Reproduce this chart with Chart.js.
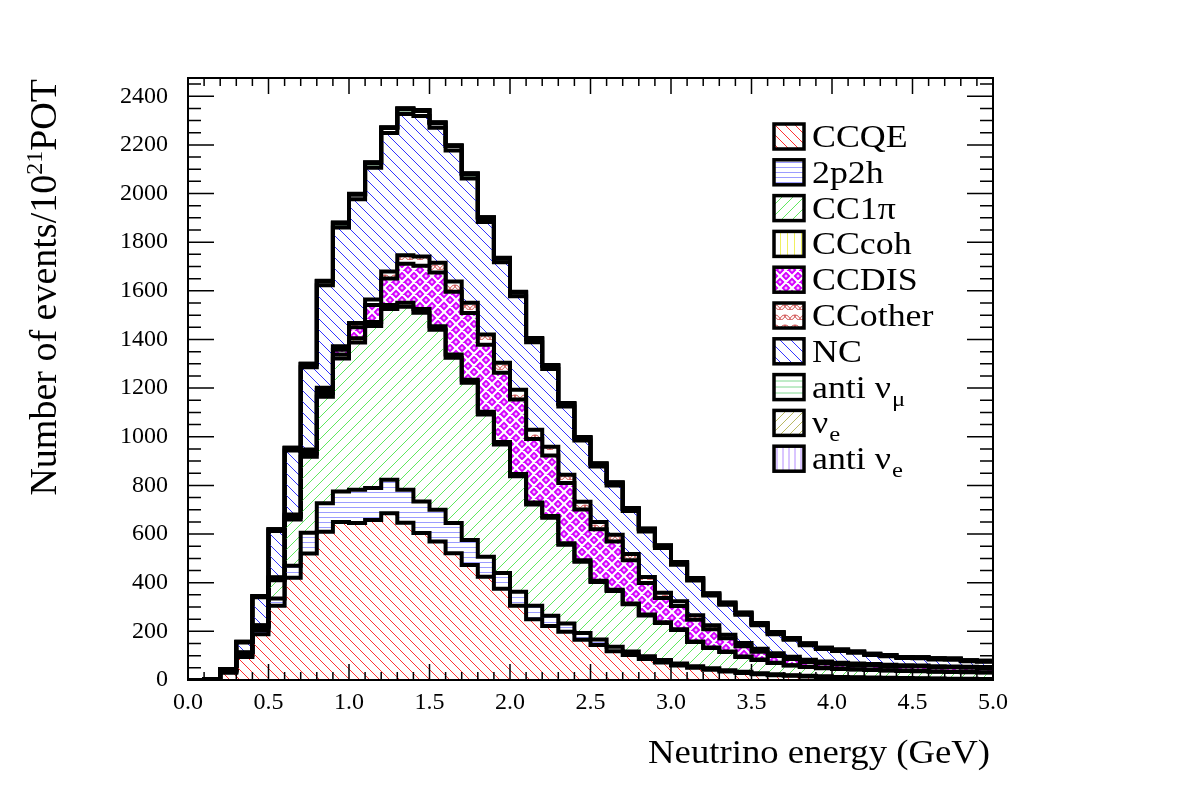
<!DOCTYPE html>
<html>
<head>
<meta charset="utf-8">
<title>Neutrino energy stack</title>
<script src="https://cdn.jsdelivr.net/npm/chart.js@4.4.1/dist/chart.umd.min.js"></script>
<style>
  html, body { margin: 0; padding: 0; background: #fff; }
  canvas { display: block; }
</style>
</head>
<body>
<canvas id="stackChart" width="1182" height="800"></canvas>
<script>
// low edge of every 0.1 GeV bin, plus the last upper edge
var binEdges = [0.0, 0.1, 0.2, 0.3, 0.4, 0.5, 0.6, 0.7, 0.8, 0.9,
                1.0, 1.1, 1.2, 1.3, 1.4, 1.5, 1.6, 1.7, 1.8, 1.9,
                2.0, 2.1, 2.2, 2.3, 2.4, 2.5, 2.6, 2.7, 2.8, 2.9,
                3.0, 3.1, 3.2, 3.3, 3.4, 3.5, 3.6, 3.7, 3.8, 3.9,
                4.0, 4.1, 4.2, 4.3, 4.4, 4.5, 4.6, 4.7, 4.8, 4.9];
var lastEdge = 5.0;

// events / 1e21 POT per bin, one array per channel (stack order, bottom first)
var ccqe     = [0, 3, 30, 95, 188, 305, 420, 520, 609, 650, 645, 658, 686, 646, 604, 569, 521, 473, 425, 375,
                305, 250, 222, 198, 165, 144, 118, 103, 86, 72, 60, 50, 42, 35, 29, 24, 20, 17, 14, 12,
                10, 9, 8, 7, 6, 5, 5, 4, 4, 3];
var twoP2h   = [0, 0, 3, 8, 17, 30, 50, 85, 118, 125, 137, 131, 137, 136, 130, 131, 124, 103, 82, 65,
                58, 55, 42, 34, 28, 22, 19, 14, 12, 10, 8, 7, 6, 5, 5, 4, 4, 3, 3, 3,
                2, 2, 2, 2, 2, 2, 1, 1, 1, 1];
var cc1pi    = [0, 0, 5, 7, 13, 75, 190, 313, 438, 547, 606, 666, 702, 753, 776, 740, 680, 646, 585, 528,
                475, 417, 403, 324, 293, 237, 229, 194, 167, 152, 138, 99, 84, 75, 61, 54, 46, 40, 36, 33,
                33, 32, 31, 30, 29, 29, 28, 28, 27, 27];
var cccoh    = [0, 0, 1, 2, 4, 7, 10, 13, 15, 16, 17, 17, 17, 16, 15, 14, 13, 12, 11, 10,
                9, 8, 7, 6, 6, 5, 5, 4, 4, 3, 3, 2, 2, 2, 2, 2, 1, 1, 1, 1,
                1, 1, 1, 1, 1, 1, 1, 1, 1, 1];
var ccdis    = [0, 0, 1, 1, 2, 3, 6, 10, 12, 20, 45, 70, 109, 160, 178, 221, 258, 275, 275, 285,
                306, 261, 249, 248, 209, 212, 198, 177, 130, 100, 95, 90, 75, 55, 42, 32, 28, 25, 20, 19,
                18, 17, 18, 17, 18, 18, 17, 18, 17, 17];
var ccother  = [0, 0, 0, 0, 1, 2, 4, 7, 10, 14, 18, 22, 28, 35, 38, 40, 42, 42, 42, 41,
                40, 38, 36, 34, 32, 30, 28, 26, 24, 22, 20, 18, 16, 14, 13, 12, 11, 10, 9, 8,
                7, 7, 6, 6, 5, 5, 5, 4, 4, 4];
var nc       = [0, 1, 4, 41, 115, 191, 264, 338, 421, 488, 509, 542, 570, 581, 578, 555, 539, 511, 463, 413,
                385, 360, 320, 280, 252, 228, 203, 177, 188, 184, 150, 143, 122, 123, 116, 97, 78, 69, 60, 51,
                48, 44, 37, 35, 29, 29, 27, 27, 23, 22];
var antiNumu = [0, 0, 1, 2, 4, 6, 9, 12, 15, 17, 18, 19, 20, 20, 20, 19, 18, 17, 16, 15,
                14, 13, 12, 11, 10, 9, 9, 8, 8, 7, 7, 6, 6, 6, 5, 5, 5, 4, 4, 4,
                4, 3, 3, 3, 3, 3, 3, 3, 2, 2];
var nue      = [0, 0, 0, 1, 1, 1, 2, 2, 2, 3, 3, 3, 3, 3, 3, 3, 3, 3, 3, 3,
                3, 3, 3, 3, 3, 3, 3, 3, 3, 3, 3, 3, 3, 3, 3, 3, 3, 3, 3, 2,
                2, 2, 2, 2, 2, 2, 2, 2, 2, 2];
var antiNue  = [0, 0, 0, 0, 0, 0, 0, 0, 1, 1, 1, 1, 1, 1, 1, 1, 1, 1, 1, 1,
                1, 1, 1, 1, 1, 1, 1, 1, 1, 1, 1, 1, 1, 1, 1, 1, 1, 1, 1, 0,
                0, 0, 0, 0, 0, 0, 0, 0, 0, 0];

var serif = '"Liberation Serif", "Times New Roman", serif';

// ---- ROOT-like fill patterns ----
function hatch(color, kind, gap, width) {
    var c = document.createElement('canvas');
    c.width = gap; c.height = gap;
    var g = c.getContext('2d');
    g.strokeStyle = color;
    g.lineWidth = width || 1;
    g.beginPath();
    if (kind === 'h') { g.moveTo(0, gap / 2); g.lineTo(gap, gap / 2); }
    if (kind === 'v') { g.moveTo(gap / 2, 0); g.lineTo(gap / 2, gap); }
    if (kind === 'back') {
        g.moveTo(-1, -1); g.lineTo(gap + 1, gap + 1);
        g.moveTo(-1, gap - 1); g.lineTo(1, gap + 1);
        g.moveTo(gap - 1, -1); g.lineTo(gap + 1, 1);
    }
    if (kind === 'fwd') {
        g.moveTo(-1, gap + 1); g.lineTo(gap + 1, -1);
        g.moveTo(-1, 1); g.lineTo(1, -1);
        g.moveTo(gap - 1, gap + 1); g.lineTo(gap + 1, gap - 1);
    }
    g.stroke();
    return g.createPattern(c, 'repeat');
}

function disPattern() {
    var s = 12;
    var c = document.createElement('canvas');
    c.width = s; c.height = s;
    var g = c.getContext('2d');
    g.fillStyle = '#d400ff';
    g.fillRect(0, 0, s, s);
    g.strokeStyle = '#fff';
    g.lineWidth = 2.2;
    g.beginPath();
    [-s, 0, s].forEach(function (k) {
        g.moveTo(k, 0); g.lineTo(k + s, s);
        g.moveTo(k, s); g.lineTo(k + s, 0);
    });
    g.stroke();
    // little white crosses in the diamonds
    g.lineWidth = 1;
    g.beginPath();
    [[s / 2, 0], [0, s / 2], [s, s / 2], [s / 2, s]].forEach(function (p) {
        g.moveTo(p[0] - 1.5, p[1]); g.lineTo(p[0] + 1.5, p[1]);
        g.moveTo(p[0], p[1] - 1.5); g.lineTo(p[0], p[1] + 1.5);
    });
    g.stroke();
    return g.createPattern(c, 'repeat');
}

function scalePattern() {
    var s = 10;
    var c = document.createElement('canvas');
    c.width = s; c.height = s;
    var g = c.getContext('2d');
    g.strokeStyle = '#d05050';
    g.lineWidth = 1;
    g.beginPath();
    g.arc(s / 2, s, s / 2, Math.PI, 2 * Math.PI);
    g.moveTo(s / 2, s / 2);
    g.arc(0, s / 2, s / 2, 0, Math.PI);
    g.moveTo(s, s / 2);
    g.arc(s, s / 2, s / 2, 0, Math.PI);
    g.stroke();
    return g.createPattern(c, 'repeat');
}

function toPoints(arr) {
    var pts = arr.map(function (v, i) { return { x: binEdges[i], y: v }; });
    pts.push({ x: lastEdge, y: arr[arr.length - 1] });
    return pts;
}

var channels = [
    { label: 'CCQE',    sub: '',  values: ccqe,     fill: hatch('#ff3030', 'back', 10) },
    { label: '2p2h',    sub: '',  values: twoP2h,   fill: hatch('#9c9cff', 'h', 5) },
    { label: 'CC1\u03c0', sub: '', values: cc1pi,   fill: hatch('#5fe85f', 'fwd', 11) },
    { label: 'CCcoh',   sub: '',  values: cccoh,    fill: hatch('#f0f060', 'v', 7) },
    { label: 'CCDIS',   sub: '',  values: ccdis,    fill: disPattern() },
    { label: 'CCother', sub: '',  values: ccother,  fill: scalePattern() },
    { label: 'NC',      sub: '',  values: nc,       fill: hatch('#3434ff', 'back', 11) },
    { label: 'anti \u03bd', sub: '\u03bc', values: antiNumu, fill: hatch('#80d890', 'h', 6) },
    { label: '\u03bd',  sub: 'e', values: nue,      fill: hatch('#b8b860', 'fwd', 9) },
    { label: 'anti \u03bd', sub: 'e', values: antiNue, fill: hatch('#b48cff', 'v', 6) }
];

var datasets = channels.map(function (ch, i) {
    return {
        label: ch.label,
        sub: ch.sub,
        data: toPoints(ch.values),
        stepped: 'before',
        fill: i === 0 ? 'origin' : '-1',
        backgroundColor: ch.fill,
        borderColor: '#000',
        borderWidth: 4,
        borderJoinStyle: 'miter',
        pointRadius: 0,
        pointHoverRadius: 0
    };
});

// ---- frame and inward ticks like ROOT ----
var rootAxes = {
    id: 'rootAxes',
    afterDatasetsDraw: function (chart) {
        var ctx = chart.ctx, a = chart.chartArea;
        var xs = chart.scales.x, ys = chart.scales.y;
        ctx.save();
        ctx.strokeStyle = '#000';
        ctx.lineWidth = 1.5;
        ctx.beginPath();
        for (var i = 0; i <= 50; i++) {
            var px = xs.getPixelForValue(i / 10);
            var len = i % 5 === 0 ? 16 : 8;
            ctx.moveTo(px, a.bottom); ctx.lineTo(px, a.bottom - len);
            ctx.moveTo(px, a.top); ctx.lineTo(px, a.top + len);
        }
        for (var v = 0; v <= ys.max; v += 50) {
            var py = ys.getPixelForValue(v);
            var l = v % 200 === 0 ? 26 : 13;
            ctx.moveTo(a.left, py); ctx.lineTo(a.left + l, py);
            ctx.moveTo(a.right, py); ctx.lineTo(a.right - l, py);
        }
        ctx.stroke();
        ctx.lineWidth = 2;
        ctx.strokeRect(a.left, a.top, a.right - a.left, a.bottom - a.top);
        ctx.restore();
    }
};

function stretchText(ctx, text, x, y, sx) {
    ctx.save();
    ctx.translate(x, y);
    ctx.scale(sx, 1);
    ctx.fillText(text, 0, 0);
    var w = ctx.measureText(text).width * sx;
    ctx.restore();
    return w;
}

// ---- legend and axis titles ----
var rootText = {
    id: 'rootText',
    afterDraw: function (chart) {
        var ctx = chart.ctx;
        ctx.save();
        ctx.fillStyle = '#000';
        ctx.textAlign = 'left';
        ctx.textBaseline = 'alphabetic';

        chart.data.datasets.forEach(function (ds, k) {
            var yc = 136 + 35.8 * k;
            ctx.fillStyle = '#fff';
            ctx.fillRect(774, yc - 12, 30, 25);
            ctx.fillStyle = ds.backgroundColor;
            ctx.fillRect(774, yc - 12, 30, 25);
            ctx.lineWidth = 3.5;
            ctx.strokeStyle = '#000';
            ctx.strokeRect(774, yc - 12, 30, 25);
            ctx.fillStyle = '#000';
            ctx.font = '32px ' + serif;
            var w = stretchText(ctx, ds.label, 812, yc + 11, 1.12);
            if (ds.sub) {
                ctx.font = '22px ' + serif;
                stretchText(ctx, ds.sub, 812 + w + 1, yc + 19, 1.12);
            }
        });

        // x title
        ctx.font = '34px ' + serif;
        ctx.textAlign = 'right';
        stretchText(ctx, 'Neutrino energy (GeV)', 990, 763, 1.08);

        // y title, rotated, with superscript
        ctx.textAlign = 'left';
        var big = '38px ' + serif, small = '24px ' + serif;
        var p1 = 'Number of events/10', p2 = '21', p3 = 'POT';
        ctx.font = big; var w1 = ctx.measureText(p1).width, w3 = ctx.measureText(p3).width;
        ctx.font = small; var w2 = ctx.measureText(p2).width;
        var total = w1 + w2 + w3;
        ctx.translate(56, 79);
        ctx.rotate(-Math.PI / 2);
        ctx.font = big; ctx.fillText(p1, -total, 0);
        ctx.font = small; ctx.fillText(p2, -total + w1, -14);
        ctx.font = big; ctx.fillText(p3, -total + w1 + w2, 0);
        ctx.restore();
    }
};

var tickFont = { family: serif, size: 24 };

new Chart(document.getElementById('stackChart'), {
    type: 'line',
    data: { datasets: datasets },
    options: {
        responsive: false,
        animation: false,
        devicePixelRatio: 1,
        events: [],
        layout: { padding: { left: 0, top: 78, right: 189, bottom: 0 } },
        plugins: { legend: { display: false }, tooltip: { enabled: false } },
        elements: { line: { tension: 0 } },
        scales: {
            x: {
                type: 'linear', min: 0, max: 5,
                grid: { display: false, drawTicks: false },
                border: { display: false },
                ticks: {
                    stepSize: 0.5, color: '#000', font: tickFont, padding: 8, maxRotation: 0,
                    callback: function (v) { return v.toFixed(1); }
                },
                afterFit: function (s) { s.height = 120; }
            },
            y: {
                type: 'linear', stacked: true, min: 0, max: 2475,
                grid: { display: false, drawTicks: false },
                border: { display: false },
                ticks: {
                    stepSize: 200, includeBounds: false, color: '#000', font: tickFont, padding: 20,
                    callback: function (v) { return String(v); }
                },
                afterFit: function (s) { s.width = 188; }
            }
        }
    },
    plugins: [rootAxes, rootText]
});
</script>
</body>
</html>
